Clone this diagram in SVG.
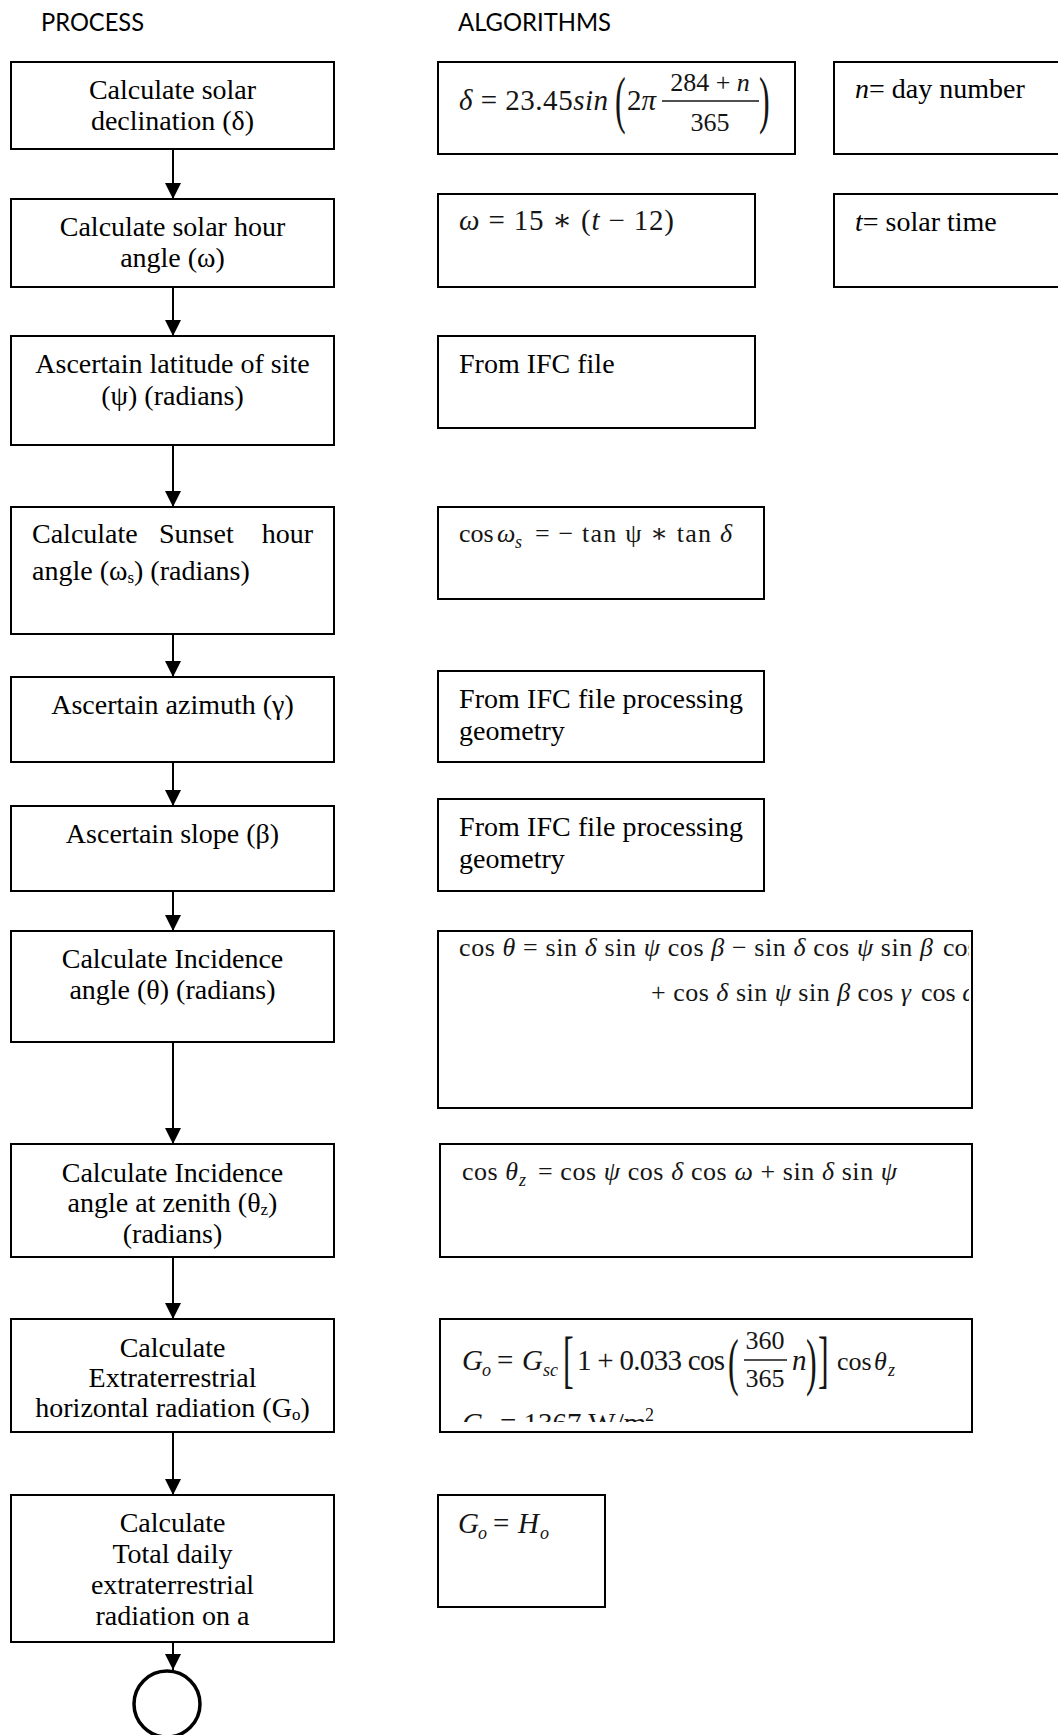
<svg xmlns="http://www.w3.org/2000/svg" width="1058" height="1735" viewBox="0 0 1058 1735">
<style>
.box{fill:#fff;stroke:#000;stroke-width:2}
.t{font-family:"Liberation Serif","DejaVu Serif",serif;font-size:28px;fill:#000}
.c{text-anchor:middle}
.h{font-family:Lato,"Liberation Sans",sans-serif;font-size:25px;fill:#000}
.m{font-family:"Liberation Serif","DejaVu Serif",serif;font-size:29px;fill:#151515}
.sm{font-size:26px}
.sb{font-size:18px}
.big{font-size:64px}
.i{font-style:italic}
.conn{stroke:#000;stroke-width:2;fill:none}
</style>
<defs>
<marker id="ah" markerUnits="userSpaceOnUse" markerWidth="16" markerHeight="16" viewBox="0 0 16 16" refX="16" refY="8" orient="auto">
<path d="M0,0 L16,8 L0,16 z" fill="#000"/>
</marker>
<clipPath id="clip7"><rect x="438" y="931" width="531" height="177"/></clipPath>
<clipPath id="clip9"><rect x="440" y="1319" width="532" height="103"/></clipPath>
</defs>
<rect width="1058" height="1735" fill="#fff"/>

<text class="h" x="41" y="31" textLength="103" lengthAdjust="spacingAndGlyphs">PROCESS</text>
<text class="h" x="458" y="31" textLength="153" lengthAdjust="spacingAndGlyphs">ALGORITHMS</text>

<g id="connectors">
<line class="conn" x1="173" y1="149" x2="173" y2="199" marker-end="url(#ah)"/>
<line class="conn" x1="173" y1="287" x2="173" y2="336" marker-end="url(#ah)"/>
<line class="conn" x1="173" y1="445" x2="173" y2="507" marker-end="url(#ah)"/>
<line class="conn" x1="173" y1="634" x2="173" y2="677" marker-end="url(#ah)"/>
<line class="conn" x1="173" y1="762" x2="173" y2="806" marker-end="url(#ah)"/>
<line class="conn" x1="173" y1="891" x2="173" y2="931" marker-end="url(#ah)"/>
<line class="conn" x1="173" y1="1042" x2="173" y2="1144" marker-end="url(#ah)"/>
<line class="conn" x1="173" y1="1257" x2="173" y2="1319" marker-end="url(#ah)"/>
<line class="conn" x1="173" y1="1432" x2="173" y2="1495" marker-end="url(#ah)"/>
<line class="conn" x1="173" y1="1642" x2="173" y2="1670" marker-end="url(#ah)"/>
</g>

<g id="p1"><rect class="box" x="11" y="62" width="323" height="87"/>
<text class="t c" x="172.5" y="99">Calculate solar</text>
<text class="t c" x="172.5" y="130">declination (δ)</text></g>

<g id="p2"><rect class="box" x="11" y="199" width="323" height="88"/>
<text class="t c" x="172.5" y="236">Calculate solar hour</text>
<text class="t c" x="172.5" y="267">angle (ω)</text></g>

<g id="p3"><rect class="box" x="11" y="336" width="323" height="109"/>
<text class="t c" x="172.5" y="373">Ascertain latitude of site</text>
<text class="t c" x="172.5" y="405">(ψ) (radians)</text></g>

<g id="p4"><rect class="box" x="11" y="507" width="323" height="127"/>
<text class="t" x="32" y="543">Calculate</text>
<text class="t" x="159" y="543">Sunset</text>
<text class="t" x="313" y="543" text-anchor="end">hour</text>
<text class="t" x="32" y="580">angle (ω<tspan font-size="17px" dy="3">s</tspan><tspan dy="-3">) (radians)</tspan></text></g>

<g id="p5"><rect class="box" x="11" y="677" width="323" height="85"/>
<text class="t c" x="172.5" y="714">Ascertain azimuth (γ)</text></g>

<g id="p6"><rect class="box" x="11" y="806" width="323" height="85"/>
<text class="t c" x="172.5" y="843">Ascertain slope (β)</text></g>

<g id="p7"><rect class="box" x="11" y="931" width="323" height="111"/>
<text class="t c" x="172.5" y="968">Calculate Incidence</text>
<text class="t c" x="172.5" y="999">angle (θ) (radians)</text></g>

<g id="p8"><rect class="box" x="11" y="1144" width="323" height="113"/>
<text class="t c" x="172.5" y="1182">Calculate Incidence</text>
<text class="t c" x="172.5" y="1212">angle at zenith (θ<tspan font-size="17px" dy="3">z</tspan><tspan dy="-3">)</tspan></text>
<text class="t c" x="172.5" y="1243">(radians)</text></g>

<g id="p9"><rect class="box" x="11" y="1319" width="323" height="113"/>
<text class="t c" x="172.5" y="1357">Calculate</text>
<text class="t c" x="172.5" y="1387">Extraterrestrial</text>
<text class="t c" x="172.5" y="1417">horizontal radiation (G<tspan font-size="17px" dy="3">o</tspan><tspan dy="-3">)</tspan></text></g>

<g id="p10"><rect class="box" x="11" y="1495" width="323" height="147"/>
<text class="t c" x="172.5" y="1532">Calculate</text>
<text class="t c" x="172.5" y="1563">Total daily</text>
<text class="t c" x="172.5" y="1594">extraterrestrial</text>
<text class="t c" x="172.5" y="1625">radiation on a</text></g>

<g id="end"><circle cx="167" cy="1704" r="33" fill="none" stroke="#000" stroke-width="3.5"/></g>

<g id="a1"><rect class="box" x="438" y="62" width="357" height="92"/>
<text class="m" x="459" y="110" textLength="149"><tspan class="i">δ</tspan> = 23.45<tspan class="i">sin</tspan></text>
<text class="m big" transform="translate(615,121) scale(0.5,1)">(</text>
<text class="m" x="627" y="110">2<tspan class="i">π</tspan></text>
<text class="m sm c" x="710" y="91">284 + <tspan class="i">n</tspan></text>
<line x1="662" y1="101" x2="759" y2="101" stroke="#151515" stroke-width="1.4"/>
<text class="m sm c" x="710" y="131">365</text>
<text class="m big" transform="translate(759,121) scale(0.5,1)">)</text></g>

<g id="n1"><rect class="box" x="834" y="62" width="240" height="92"/>
<text class="t" x="855" y="98"><tspan class="i">n</tspan>= day number</text></g>

<g id="a2"><rect class="box" x="438" y="194" width="317" height="93"/>
<text class="m" x="459" y="230" textLength="215"><tspan class="i">ω</tspan> = 15 ∗ (<tspan class="i">t</tspan> − 12)</text></g>

<g id="n2"><rect class="box" x="834" y="194" width="240" height="93"/>
<text class="t" x="855" y="231"><tspan class="i">t</tspan>= solar time</text></g>

<g id="a3"><rect class="box" x="438" y="336" width="317" height="92"/>
<text class="t" x="459" y="373">From IFC file</text></g>

<g id="a4"><rect class="box" x="438" y="507" width="326" height="92"/>
<text class="m sm" x="459" y="542">cos</text>
<text class="m sm i" x="497" y="542">ω</text>
<text class="m sb i" x="515" y="548">s</text>
<text class="m sm" x="535" y="542" textLength="197">= − tan ψ ∗ tan <tspan class="i">δ</tspan></text></g>

<g id="a5"><rect class="box" x="438" y="671" width="326" height="91"/>
<text class="t" x="459" y="708" textLength="284">From IFC file processing</text>
<text class="t" x="459" y="740">geometry</text></g>

<g id="a6"><rect class="box" x="438" y="799" width="326" height="92"/>
<text class="t" x="459" y="836" textLength="284">From IFC file processing</text>
<text class="t" x="459" y="868">geometry</text></g>

<g id="a7"><rect class="box" x="438" y="931" width="534" height="177"/>
<g clip-path="url(#clip7)">
<text class="m sm" x="459" y="956" textLength="474">cos <tspan class="i">θ</tspan> = sin <tspan class="i">δ</tspan> sin <tspan class="i">ψ</tspan> cos <tspan class="i">β</tspan> − sin <tspan class="i">δ</tspan> cos <tspan class="i">ψ</tspan> sin <tspan class="i">β</tspan></text>
<text class="m sm" x="943" y="956">cos <tspan class="i">γ</tspan> cos <tspan class="i">ω</tspan></text>
<text class="m sm" x="651" y="1001" textLength="260">+ cos <tspan class="i">δ</tspan> sin <tspan class="i">ψ</tspan> sin <tspan class="i">β</tspan> cos <tspan class="i">γ</tspan></text>
<text class="m sm" x="921" y="1001">cos <tspan class="i">ω</tspan></text>
</g></g>

<g id="a8"><rect class="box" x="440" y="1144" width="532" height="113"/>
<text class="m sm" x="462" y="1180" textLength="56">cos <tspan class="i">θ</tspan></text>
<text class="m sb i" x="519" y="1186">z</text>
<text class="m sm" x="538" y="1180" textLength="359">= cos <tspan class="i">ψ</tspan> cos <tspan class="i">δ</tspan> cos <tspan class="i">ω</tspan> + sin <tspan class="i">δ</tspan> sin <tspan class="i">ψ</tspan></text></g>

<g id="a9"><rect class="box" x="440" y="1319" width="532" height="113"/>
<text class="m i" x="462" y="1370">G</text>
<text class="m sb i" x="482" y="1376">o</text>
<text class="m" x="497" y="1370">=</text>
<text class="m i" x="522" y="1370">G</text>
<text class="m sb i" x="543" y="1376">sc</text>
<text class="m big" transform="translate(563,1380) scale(0.5,1)">[</text>
<text class="m" x="577" y="1370" textLength="148">1 + 0.033 cos</text>
<text class="m big" transform="translate(728,1383) scale(0.5,1)">(</text>
<text class="m sm c" x="765" y="1349">360</text>
<line x1="744" y1="1360" x2="787" y2="1360" stroke="#151515" stroke-width="1.4"/>
<text class="m sm c" x="765" y="1387">365</text>
<text class="m i" x="792" y="1370">n</text>
<text class="m big" transform="translate(806,1383) scale(0.5,1)">)</text>
<text class="m big" transform="translate(818,1380) scale(0.5,1)">]</text>
<text class="m sm" x="837" y="1370">cos</text>
<text class="m sm i" x="874" y="1370">θ</text>
<text class="m sb i" x="888" y="1376">z</text>
<g clip-path="url(#clip9)">
<text class="m i" x="462" y="1433">G</text>
<text class="m sb i" x="482" y="1439">sc</text>
<text class="m" x="500" y="1433">= 1367 W/m</text>
<text class="m sb" x="645" y="1421">2</text>
</g></g>

<g id="a10"><rect class="box" x="438" y="1495" width="167" height="112"/>
<text class="m i" x="458" y="1533">G</text>
<text class="m sb i" x="478" y="1539">o</text>
<text class="m" x="493" y="1533">=</text>
<text class="m i" x="518" y="1533">H</text>
<text class="m sb i" x="540" y="1539">o</text></g>
</svg>
